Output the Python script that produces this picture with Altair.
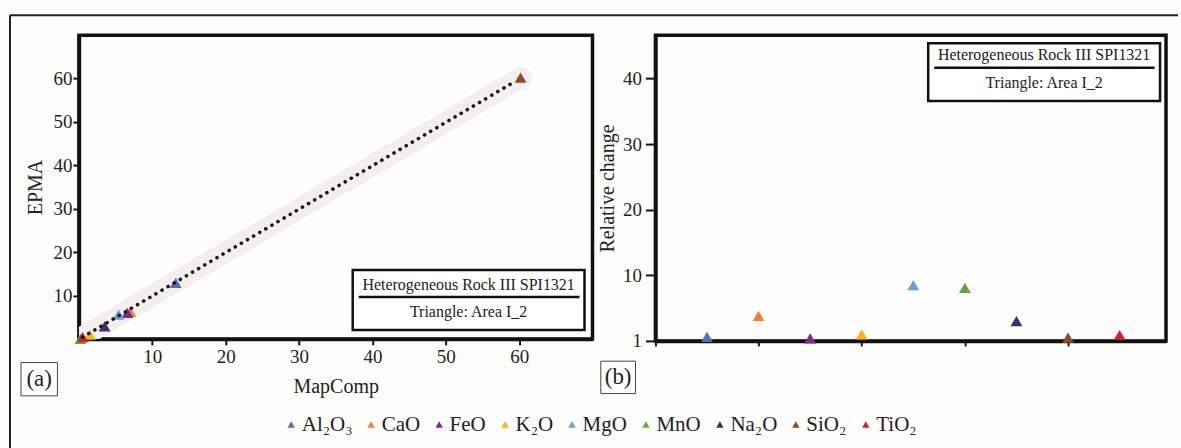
import altair as alt
import pandas as pd

# ---- data ----
oxides = ["Al₂O₃", "CaO", "FeO", "K₂O", "MgO", "MnO", "Na₂O", "SiO₂", "TiO₂"]
colors = ["#5a6db3", "#f47b3b", "#7b2d8e", "#fbb41a", "#6f9ad6", "#63a83c", "#2f3567", "#8f4a27", "#c9272d"]
mapcomp = [13.2, 7.0, 6.6, 1.5, 5.4, 0.2, 3.5, 60.2, 0.5]
epma = [12.9, 6.2, 6.0, 1.0, 5.6, 0.0, 2.9, 60.2, 0.4]
position = [1, 2, 3, 4, 5, 6, 7, 8, 9]
relchange = [0.6, 3.8, 0.4, 1.0, 8.5, 8.1, 3.0, 0.5, 0.9]
trend_x = [0.5, 59.5]
trend_y = [0.4, 59.4]
band_x = [0.0, 60.3]
band_y = [0.0, 60.3]
x_ticks_a = [10, 20, 30, 40, 50, 60]
y_ticks_a = [10, 20, 30, 40, 50, 60]
y_ticks_b = [0, 10, 20, 30, 40]
x_ticks_b = [0, 2, 4, 6, 8]
box_title = "Heterogeneous Rock III SPI1321"
box_sub = "Triangle: Area I_2"

FONT = "Liberation Serif"

pts_a = pd.DataFrame({"Oxide": oxides, "x": mapcomp, "y": epma})
pts_b = pd.DataFrame({"Oxide": oxides, "pos": position, "rel": relchange})
trend = pd.DataFrame({"x": trend_x, "y": trend_y})
band = pd.DataFrame({"x": band_x, "y": band_y})
one = pd.DataFrame({"d": [0]})

color = alt.Color(
    "Oxide:N",
    scale=alt.Scale(domain=oxides, range=colors),
    legend=alt.Legend(
        title=None, orient="none", direction="horizontal", legendX=202, legendY=379,
        symbolType="triangle-up", symbolSize=55, symbolStrokeWidth=0,
        labelFont=FONT, labelFontSize=21, labelColor="#222", columnPadding=8,
        labelOffset=0, labelLimit=200,
    ),
)

xa = alt.X("x:Q", scale=alt.Scale(domain=[0, 70], nice=False),
           axis=alt.Axis(values=x_ticks_a, title="MapComp", tickSize=6, labelPadding=3,
                         titleX=257, titleY=48, titleBaseline="middle"))
ya = alt.Y("y:Q", scale=alt.Scale(domain=[0, 70], nice=False),
           axis=alt.Axis(values=y_ticks_a, title="EPMA", tickSize=6, labelPadding=1,
                         titleX=-43.5, titleY=152, titleBaseline="middle"))

band_l = alt.Chart(band).mark_line(strokeWidth=21, strokeCap="round", color="#f2efee", clip=True).encode(x=xa, y=ya)
pts_l = alt.Chart(pts_a).mark_point(shape="triangle-up", filled=True, size=140, opacity=1).encode(x="x:Q", y="y:Q", color=color)
trend_l = alt.Chart(trend).mark_line(strokeWidth=3.5, strokeCap="round", strokeDash=[0.1, 7], color="#111").encode(x="x:Q", y="y:Q")


def annot(x1, x2, y1, y2, tx, ty1, ty2, uy, ux1, ux2):
    rect = alt.Chart(one).mark_rect(fill="white", stroke="#111", strokeWidth=2.5).encode(
        x=alt.value(x1), x2=alt.value(x2), y=alt.value(y1), y2=alt.value(y2))
    t1 = alt.Chart(one).mark_text(text=box_title, font=FONT, fontSize=16, color="#222").encode(
        x=alt.value(tx), y=alt.value(ty1))
    t2 = alt.Chart(one).mark_text(text=box_sub, font=FONT, fontSize=16, color="#222").encode(
        x=alt.value(tx), y=alt.value(ty2))
    ul = alt.Chart(one).mark_rule(strokeWidth=2.5, color="#111").encode(
        x=alt.value(ux1), x2=alt.value(ux2), y=alt.value(uy))
    return [rect, t1, t2, ul]


def tag(x1, x2, y1, y2, label):
    r = alt.Chart(one).mark_rect(fill="white", stroke="#444", strokeWidth=1).encode(
        x=alt.value(x1), x2=alt.value(x2), y=alt.value(y1), y2=alt.value(y2))
    t = alt.Chart(one).mark_text(text=label, font=FONT, fontSize=23, color="#222", baseline="middle").encode(
        x=alt.value((x1 + x2) / 2), y=alt.value((y1 + y2) / 2))
    return [r, t]


frame_top = alt.Chart(one).mark_rule(strokeWidth=2, color="#222").encode(
    x=alt.value(-69), x2=alt.value(1100), y=alt.value(-20))
frame_left = alt.Chart(one).mark_rule(strokeWidth=2, color="#222").encode(
    x=alt.value(-69), y=alt.value(-20), y2=alt.value(414))

left = alt.layer(
    band_l, pts_l, trend_l,
    *annot(274, 506, 235, 295, 390, 250, 277, 262, 280, 501),
    *tag(-58, -21.5, 327.7, 361, "(a)"),
    frame_top, frame_left,
).properties(width=514, height=304)

xb = alt.X("pos:Q", scale=alt.Scale(domain=[0, 9.9], nice=False),
           axis=alt.Axis(values=x_ticks_b, labels=False, title=None, tickSize=5))
yb = alt.Y("rel:Q", scale=alt.Scale(domain=[0, 46.6], nice=False),
           axis=alt.Axis(values=y_ticks_b, title="Relative change", tickSize=10, labelPadding=4,
                         labelExpr="datum.value == 0 ? '1' : datum.label",
                         titleX=-48, titleY=153, titleBaseline="middle"))
pts_r = alt.Chart(pts_b).mark_point(shape="triangle-up", filled=True, size=140, opacity=1).encode(
    x=xb, y=yb, color=color)

right = alt.layer(
    pts_r,
    *annot(273, 505, 8, 66, 389, 20.3, 47.7, 32.7, 279, 499.5),
    *tag(-54.7, -20, 326.3, 358.7, "(b)"),
).properties(width=511, height=306)

chart = alt.hconcat(left, right, spacing=63, bounds="flush").properties(
    padding={"left": 7, "top": 12, "right": 0, "bottom": 0},
    background="#fdfdfc",
).configure_view(stroke="#111", strokeWidth=3.5).configure_axis(
    labelFont=FONT, titleFont=FONT, labelFontSize=19, titleFontSize=20,
    titleFontWeight="normal", labelColor="#222", titleColor="#222",
    domainColor="#111", domainWidth=3.5, tickColor="#111", tickWidth=2, grid=False,
)

chart.save("out.html", embed_options={"renderer": "svg", "actions": False})
